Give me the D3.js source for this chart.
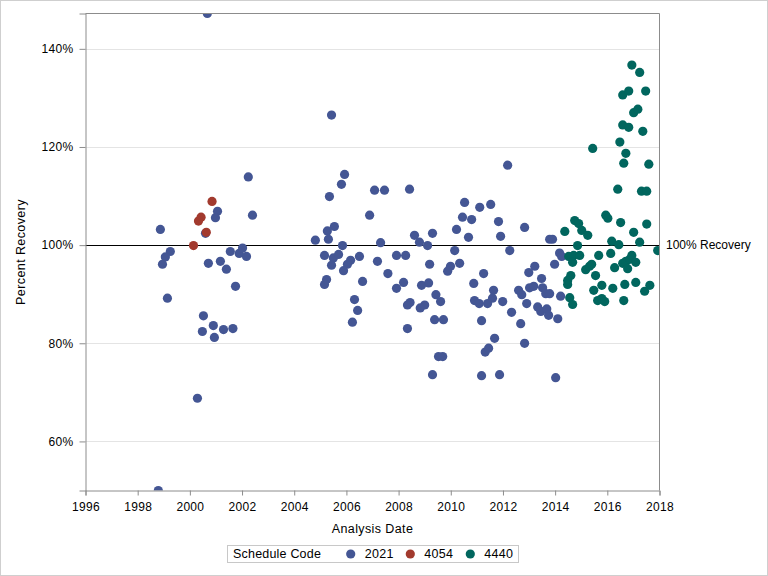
<!DOCTYPE html>
<html>
<head>
<meta charset="utf-8">
<script src="https://cdn.jsdelivr.net/npm/d3@7"></script>
<style>
  html, body { margin: 0; padding: 0; background: #fff; }
  svg { display: block; font-family: "Liberation Sans", Arial, sans-serif; }
</style>
</head>
<body>
<svg id="chart" width="768" height="576"></svg>
<script>
// ---- Data (decimal year, percent recovery) ----
const groups = ["2021", "4054", "4440"];
const groupColors = ["#445694", "#A23A2E", "#01665E"];

const series2021 = [
  [2000.67,147.2],[2002.24,113.9],[2001.06,106.9],[2000.98,105.6],[2002.40,106.1],[1998.87,103.2],[2000.60,102.4],
  [1999.25,98.7],[1999.06,97.6],[1998.95,96.1],[1999.14,89.2],[2000.71,96.3],[2001.17,96.7],[2001.40,95.1],
  [2001.55,98.7],[2001.89,98.3],[2002.02,99.4],[2002.17,97.7],[2001.75,91.6],[2000.52,85.6],[2000.48,82.4],
  [2000.90,83.6],[2000.94,81.2],[2001.29,82.8],[2001.65,83.0],[2000.29,68.8],[1998.79,50.0],
  [2005.43,126.5],[2005.93,114.4],[2005.81,112.4],[2005.35,109.9],[2007.08,111.2],[2007.46,111.2],[2006.89,106.1],
  [2005.54,103.8],[2005.27,102.9],[2005.31,101.2],[2004.81,101.0],[2005.85,99.9],[2007.31,100.5],[2005.16,97.9],
  [2005.50,97.4],[2005.70,98.1],[2005.43,95.9],[2006.50,97.7],[2006.16,96.9],[2006.04,96.1],[2005.89,94.8],
  [2007.19,96.7],[2007.59,94.2],[2006.62,92.6],[2005.24,93.0],[2005.16,92.0],[2006.31,88.9],[2006.43,86.7],[2006.23,84.3],
  [2008.42,111.4],[2010.53,108.7],[2011.11,107.7],[2010.45,105.7],[2010.80,105.2],[2010.22,103.2],[2010.68,101.6],
  [2008.61,102.0],[2009.30,102.4],[2008.80,100.6],[2009.11,99.9],[2010.15,98.9],[2007.92,97.9],[2008.27,97.9],
  [2009.19,96.1],[2010.34,96.3],[2009.99,95.7],[2009.88,94.7],[2011.26,94.2],[2008.19,92.4],[2007.92,91.2],
  [2008.88,91.8],[2009.15,92.3],[2010.88,92.2],[2009.43,89.9],[2009.61,88.5],[2008.44,88.3],[2008.34,87.8],
  [2009.00,87.8],[2008.83,87.2],[2010.91,88.7],[2011.09,88.1],[2009.38,84.8],[2009.72,84.8],[2008.34,83.0],
  [2011.18,84.6],[2009.53,77.3],[2009.69,77.3],[2009.30,73.6],[2011.18,73.4],[2011.32,78.2],
  [2012.18,116.3],[2011.53,108.3],[2011.83,104.8],[2011.91,101.8],[2012.83,103.6],[2012.26,98.9],[2013.79,101.2],
  [2013.90,101.2],[2011.64,90.8],[2011.41,88.1],[2011.60,89.2],[2011.99,88.5],[2012.33,86.3],[2012.68,84.0],
  [2011.68,81.0],[2011.45,79.0],[2012.83,80.0],[2011.87,73.6],[2014.02,73.0],[2013.22,95.7],[2012.99,94.4],
  [2013.48,93.2],[2012.60,90.8],[2012.72,89.9],[2013.02,91.3],[2013.18,91.6],[2012.91,88.1],[2013.52,91.3],
  [2013.64,90.1],[2013.79,90.1],[2013.33,87.4],[2013.45,86.5],[2013.68,87.0],[2013.75,85.7],[2014.10,85.0],
  [2014.21,89.6],[2013.98,96.1],[2014.17,98.4],[2014.25,97.7]
];

const series4054 = [
  [2000.85,108.9],[2000.43,105.7],[2000.33,104.9],[2000.63,102.6],[2000.14,99.9]
];

const series4440 = [
  [2014.37,102.8],[2014.75,105.0],[2014.90,104.4],[2015.02,103.0],[2015.25,102.0],[2014.86,99.9],[2014.52,97.7],
  [2014.71,97.9],[2014.94,97.9],[2014.67,96.5],[2014.60,93.8],[2014.48,92.8],[2014.48,92.0],[2014.56,89.3],
  [2014.67,87.9],[2015.44,119.7],[2015.67,97.9],[2015.17,95.0],[2015.32,95.7],[2015.40,96.1],[2015.55,93.8],
  [2015.48,90.8],[2015.63,88.7],[2015.79,89.1],[2015.90,88.5],[2015.79,91.8],[2015.94,106.1],[2016.02,105.5],
  [2016.13,98.3],[2016.17,100.8],[2016.28,95.4],[2016.21,91.2],[2016.44,100.1],[2016.51,104.6],[2016.40,111.4],
  [2016.48,121.0],[2016.59,130.6],[2016.82,131.4],[2016.94,136.7],[2017.24,135.2],[2017.47,131.4],[2017.01,127.0],
  [2017.17,127.7],[2016.59,124.5],[2016.82,124.0],[2017.36,123.2],[2016.71,118.7],[2016.63,116.7],[2017.59,116.5],
  [2017.31,111.0],[2017.51,111.0],[2017.51,104.3],[2017.01,102.6],[2017.24,100.6],[2017.93,98.9],[2016.59,96.3],
  [2016.71,96.7],[2016.86,97.1],[2016.94,97.9],[2017.09,96.5],[2016.78,95.2],[2016.67,92.0],[2016.63,88.7],
  [2017.09,92.4],[2017.43,90.6],[2017.63,91.8]
];

const xTicks = [1996,1998,2000,2002,2004,2006,2008,2010,2012,2014,2016,2018];
const yTicks = [60, 80, 100, 120, 140];
const refValue = 100;
const refLabel = "100% Recovery";
const xTitle = "Analysis Date";
const yTitle = "Percent Recovery";
const legendTitle = "Schedule Code";

// ---- Layout ----
const svg = d3.select("#chart");
const W = 768, H = 576;
const plot = { left: 85.5, right: 659.5, top: 13.5, bottom: 490.5 };

const x = d3.scaleLinear().domain([1996, 2018]).range([plot.left, plot.right]);
const y = d3.scaleLinear().domain([50, 147.2]).range([plot.bottom, plot.top]);

// outer border
svg.append("rect").attr("x", 0.5).attr("y", 0.5).attr("width", W - 1).attr("height", H - 1)
  .attr("fill", "#fff").attr("stroke", "#cfcfcf");

// grid lines
svg.append("g").selectAll("line").data(yTicks.filter(d => d !== refValue)).join("line")
  .attr("x1", plot.left).attr("x2", plot.right)
  .attr("y1", d => Math.round(y(d)) + 0.5).attr("y2", d => Math.round(y(d)) + 0.5)
  .attr("stroke", "#e4e4e4").attr("stroke-width", 1);

// clip
svg.append("clipPath").attr("id", "clip").append("rect")
  .attr("x", plot.left).attr("y", plot.top).attr("width", plot.right - plot.left).attr("height", plot.bottom - plot.top);

// reference line
svg.append("line")
  .attr("x1", plot.left).attr("x2", plot.right)
  .attr("y1", Math.round(y(refValue)) + 0.5).attr("y2", Math.round(y(refValue)) + 0.5)
  .attr("stroke", "#000").attr("stroke-width", 1);

// points
const allSeries = [series2021, series4054, series4440];
const pts = svg.append("g").attr("clip-path", "url(#clip)");
allSeries.forEach((s, i) => {
  pts.append("g").selectAll("circle").data(s).join("circle")
    .attr("cx", d => x(d[0])).attr("cy", d => y(d[1])).attr("r", 4.6)
    .attr("fill", groupColors[i]);
});

// frame (top and right)
svg.append("path")
  .attr("d", `M${plot.left},${plot.top}H${plot.right}V${plot.bottom}`)
  .attr("fill", "none").attr("stroke", "#8c8c8c");

// axes
const axisColor = "#8c8c8c";
const yAxis = svg.append("g").attr("transform", `translate(${plot.left},0)`)
  .call(d3.axisLeft(y).tickValues(yTicks).tickFormat(d => d + "%").tickSize(6).tickPadding(6));
const xAxis = svg.append("g").attr("transform", `translate(0,${plot.bottom})`)
  .call(d3.axisBottom(x).tickValues(xTicks).tickFormat(d3.format("d")).tickSize(5).tickPadding(7));
[yAxis, xAxis].forEach(a => {
  a.select(".domain").attr("stroke", axisColor);
  a.selectAll(".tick line").attr("stroke", axisColor);
  a.selectAll(".tick text").attr("fill", "#000").style("font-size", "12px")
    .style("letter-spacing", "0.3px")
    .style("font-family", '"Liberation Sans", Arial, sans-serif');
});

// reference label
svg.append("text").attr("x", 666).attr("y", y(refValue)).attr("dy", "0.35em")
  .style("font-size", "12px").attr("fill", "#000").text(refLabel);

// axis titles
svg.append("text").attr("x", (plot.left + plot.right) / 2).attr("y", 533)
  .attr("text-anchor", "middle").style("font-size", "12.5px").style("letter-spacing", "0.4px")
  .attr("fill", "#000").text(xTitle);
svg.append("text").attr("transform", `translate(25,${(plot.top + plot.bottom) / 2}) rotate(-90)`)
  .attr("text-anchor", "middle").style("font-size", "12.5px").style("letter-spacing", "0.4px")
  .attr("fill", "#000").text(yTitle);

// legend
const lg = svg.append("g");
lg.append("rect").attr("x", 227.5).attr("y", 545.5).attr("width", 291).attr("height", 17)
  .attr("fill", "#fff").attr("stroke", "#c8c8c8");
lg.append("text").attr("x", 233).attr("y", 558).style("font-size", "12.5px").style("letter-spacing", "0.2px")
  .attr("fill", "#000").text(legendTitle);
const legX = [350.7, 410.3, 470.3];
groups.forEach((g, i) => {
  lg.append("circle").attr("cx", legX[i]).attr("cy", 554).attr("r", 4.6).attr("fill", groupColors[i]);
  lg.append("text").attr("x", legX[i] + 14).attr("y", 558).style("font-size", "12.5px").style("letter-spacing", "0.3px")
    .attr("fill", "#000").text(g);
});
</script>
</body>
</html>
